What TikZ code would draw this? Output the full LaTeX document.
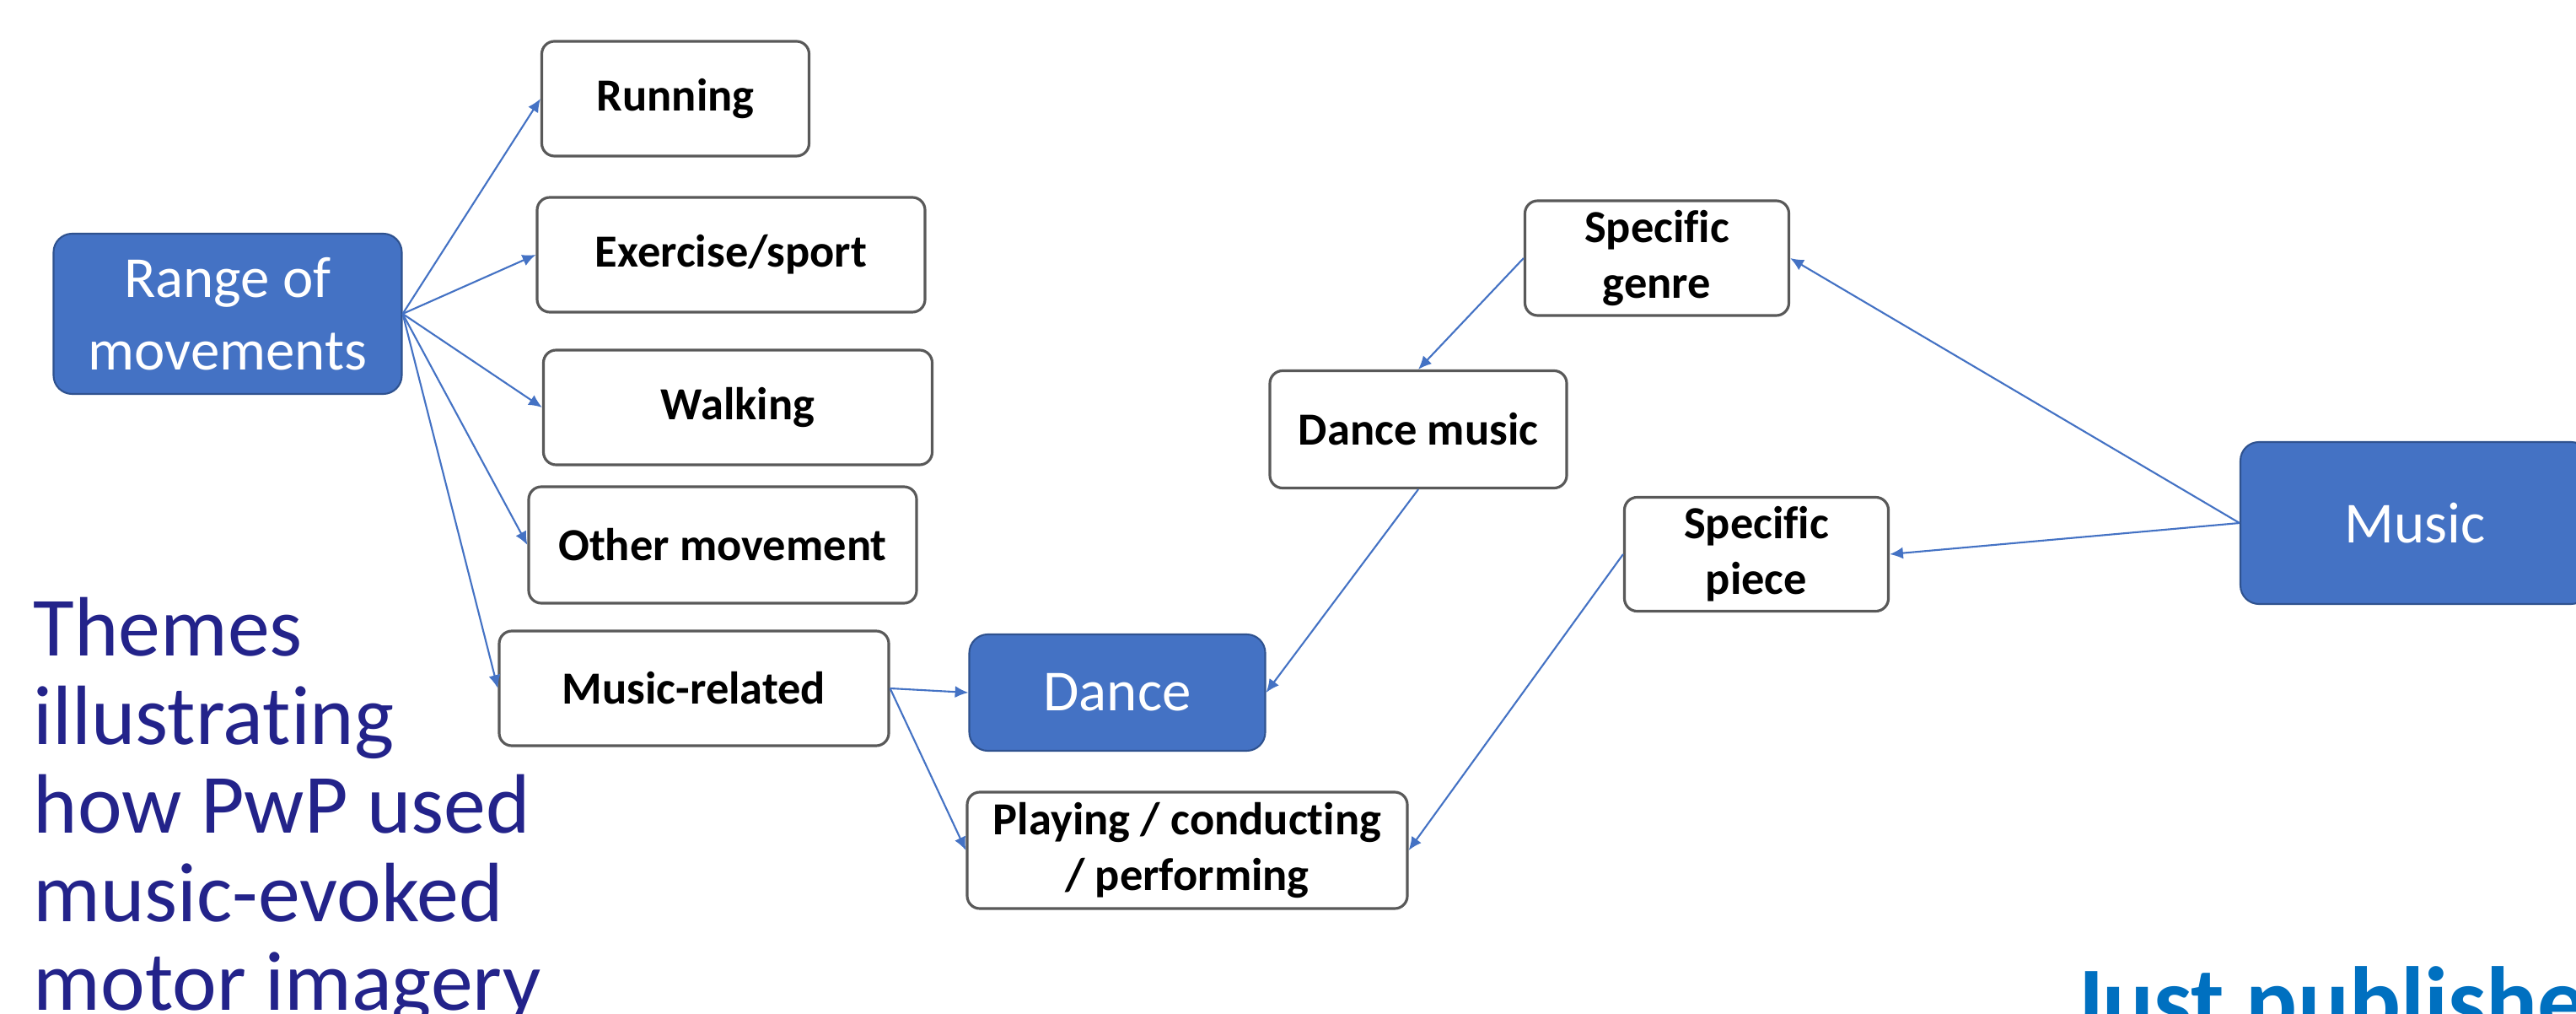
\documentclass[tikz,border=0pt]{standalone}
\usepackage{fontspec}
\setmainfont{Carlito}[Ligatures=NoCommon]
\usepackage{tikz}
\usetikzlibrary{arrows.meta}

\definecolor{keyblue}{RGB}{68,114,196}
\definecolor{keyedge}{RGB}{47,82,143}
\definecolor{boxedge}{RGB}{89,89,89}
\definecolor{themenavy}{RGB}{35,35,138}
\definecolor{newsblue}{RGB}{0,112,192}

\tikzset{
  themebox/.style={draw=boxedge, line width=0.9pt, fill=white, rounded corners=0.15cm,
    inner sep=0pt, align=center, font=\fontsize{15.5}{18.8}\selectfont\bfseries},
  keybox/.style={draw=keyedge, line width=0.6pt, fill=keyblue, text=white, rounded corners=0.22cm,
    inner sep=0pt, align=center, font=\fontsize{19.6}{24.4}\selectfont},
  link/.style={draw=keyblue, line width=0.6pt, -{Latex[length=4.5pt,width=4pt]}}
}

\begin{document}
\begin{tikzpicture}

\clip (0,0) rectangle (30.55,-12.02);
\fill[white] (0,0) rectangle (30.55,-12.02);

% left hand side
\node[keybox, minimum width=4.13cm, minimum height=1.90cm] (range) at (2.70,-3.72) {Range of\\movements};
\node[themebox, minimum width=3.17cm, minimum height=1.36cm] (running) at (8.01,-1.17) {Running};
\node[themebox, minimum width=4.60cm, minimum height=1.36cm] (exercise) at (8.67,-3.02) {Exercise/sport};
\node[themebox, minimum width=4.61cm, minimum height=1.36cm] (walking) at (8.75,-4.83) {Walking};
\node[themebox, minimum width=4.60cm, minimum height=1.38cm] (other) at (8.57,-6.46) {Other movement};
\node[themebox, minimum width=4.62cm, minimum height=1.36cm] (musicrel) at (8.23,-8.16) {Music-related};

% middle
\node[keybox, minimum width=3.51cm, minimum height=1.38cm] (dance) at (13.25,-8.21) {Dance};
\node[themebox, minimum width=5.22cm, minimum height=1.38cm] (playing) at (14.08,-10.08) {Playing / conducting\\/ performing};
\node[themebox, minimum width=3.52cm, minimum height=1.39cm] (dancemusic) at (16.82,-5.09) {Dance music};

% right hand side
\node[themebox, minimum width=3.13cm, minimum height=1.36cm] (genre) at (19.65,-3.06) {Specific\\genre};
\node[themebox, minimum width=3.13cm, minimum height=1.35cm] (piece) at (20.83,-6.57) {Specific\\piece};
\node[keybox, minimum width=4.14cm, minimum height=1.92cm] (music) at (28.64,-6.20) {Music};

% arrows out of range of movements
\foreach \target in {running,exercise,walking,other,musicrel}
  \draw[link] (range.east) -- (\target.west);

% arrows out of music-related
\draw[link] (musicrel.east) -- (dance.west);
\draw[link] (musicrel.east) -- (playing.west);

% arrows out of music
\draw[link] (music.west) -- (genre.east);
\draw[link] (music.west) -- (piece.east);
\draw[link] (genre.west) -- (dancemusic.north);
\draw[link] (dancemusic.south) -- (dance.east);
\draw[link] (piece.west) -- (playing.east);

% captions
\node[anchor=north west, inner sep=0pt, align=left, text=themenavy,
  font=\fontsize{28.4}{29.9}\selectfont] (themes) at (0.39,-7.07)
  {Themes\\illustrating\\how PwP used\\music-evoked\\motor imagery};
\node[anchor=base west, inner sep=0pt, text=newsblue,
  font=\fontsize{32.4}{38}\selectfont\bfseries] (news) at (24.55,-12.25) {Just published};

\end{tikzpicture}
\end{document}
